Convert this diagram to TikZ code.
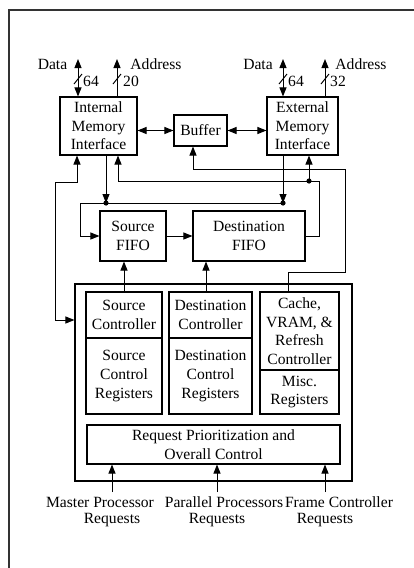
\documentclass[tikz,border=0pt]{standalone}
\usepackage{fontspec}
\setmainfont{Liberation Serif}
\usetikzlibrary{arrows.meta}
\newcommand\diagfs{\fontsize{15.6}{18.6}\selectfont}
\begin{document}
\begin{tikzpicture}[x=1pt,y=-1pt,
  box/.style={draw, line width=1.1pt, inner sep=0pt, align=center, font=\diagfs},
  lbl/.style={inner sep=0pt, align=center, font=\diagfs},
  wire/.style={line width=1pt},
  arr/.style={wire, -{Triangle[length=9pt,width=7pt]}},
  arrb/.style={wire, {Triangle[length=9pt,width=7pt]}-{Triangle[length=9pt,width=7pt]}},
  dot/.style={fill=black}]
\useasboundingbox (0,0) rectangle (414,568);
% outer frame
\draw[line width=1.2pt, black!80] (9,568) -- (9,10) -- (414,10);

% main boxes
\node[box, minimum width=77pt, minimum height=58pt] (imi) at (98.5,126) {Internal\\Memory\\Interface};
\node[box, minimum width=53pt, minimum height=31pt] (buf) at (200.5,130.5) {Buffer};
\node[box, minimum width=71pt, minimum height=58pt] (emi) at (302.5,126) {External\\Memory\\Interface};
\node[box, minimum width=66pt, minimum height=50pt] (sfifo) at (133,236) {Source\\FIFO};
\node[box, minimum width=112pt, minimum height=50pt] (dfifo) at (249,236) {Destination\\FIFO};
\node[box, minimum width=277pt, minimum height=197pt] (frame) at (213.5,382.5) {};
\node[box, minimum width=76pt, minimum height=46pt] (srcT) at (124,315) {Source\\Controller};
\node[box, minimum width=76pt, minimum height=76pt] (srcB) at (124,376) {Source\\Control\\Registers};
\node[box, minimum width=83pt, minimum height=46pt] (dstT) at (210.5,315) {Destination\\Controller};
\node[box, minimum width=83pt, minimum height=76pt] (dstB) at (210.5,376) {Destination\\Control\\Registers};
\node[box, minimum width=79pt, minimum height=78pt] (cacT) at (299.5,331) {Cache,\\VRAM, \&\\Refresh\\Controller};
\node[box, minimum width=79pt, minimum height=44pt] (cacB) at (299.5,392) {Misc.\\Registers};
\node[box, minimum width=253pt, minimum height=39pt] (req) at (213.5,444.5) {Request Prioritization and\\Overall Control};

% top buses
\coordinate (da1) at (78,59);
\coordinate (ad1) at (117,59);
\coordinate (da2) at (283,59);
\coordinate (ad2) at (325,59);
\draw[arrb] (da1) -- (da1 |- imi.north);
\draw[arr] (ad1 |- imi.north) -- (ad1);
\draw[arrb] (da2) -- (da2 |- emi.north);
\draw[arr] (ad2 |- emi.north) -- (ad2);
\node[lbl] (tdata1) at (52.5,64) {Data};
\node[lbl] (taddr1) at (156,64) {Address};
\node[lbl] (tdata2) at (258,64) {Data};
\node[lbl] (taddr2) at (361,64) {Address};
% bus width slashes
\draw[wire] (74,84) -- (82,74);
\draw[wire] (113,84) -- (121,74);
\draw[wire] (279,84) -- (287,74);
\draw[wire] (321,84) -- (329,74);
\node[lbl, anchor=west] (w64a) at (83,81) {64};
\node[lbl, anchor=west] (w20) at (123,81) {20};
\node[lbl, anchor=west] (w64b) at (288,81) {64};
\node[lbl, anchor=west] (w32) at (330,81) {32};

% buffer links
\draw[arrb] (imi.east |- buf) -- (buf.west);
\draw[arrb] (buf.east) -- (buf.east -| emi.west);

% data bus into source FIFO
\coordinate (d1) at (106,203);
\coordinate (d2) at (283,203);
\coordinate (bl) at (80,203);
\draw[arr] (d1 |- imi.south) -- (d1);
\draw[arr] (d2 |- emi.south) -- (d2);
\draw[wire] (bl) -- (d2);
\draw[arr] (bl) -- (bl |- sfifo.west) -- (sfifo.west);
\fill[dot] (d1) circle (2.6);
\fill[dot] (d2) circle (2.6);

% source -> destination FIFO
\draw[arr] (sfifo.east) -- (dfifo.west);

% destination FIFO output bus
\coordinate (r1) at (319,181);
\coordinate (d3) at (309,181);
\coordinate (l1) at (118,181);
\draw[arr] (dfifo.east) -| (r1) -- (l1) -- (l1 |- imi.south);
\draw[arr] (d3) -- (d3 |- emi.south);
\fill[dot] (d3) circle (2.6);

% cache controller -> buffer
\coordinate (b1) at (288,272);
\coordinate (b2) at (345,272);
\coordinate (b3) at (345,169);
\coordinate (b4) at (193,169);
\draw[arr] (b1 |- cacT.north) -- (b1) -- (b2) -- (b3) -- (b4) -- (b4 |- buf.south);

% controllers -> FIFOs
\draw[arr] (srcT.north) -- (srcT.north |- sfifo.south);
\coordinate (c2) at (206,292);
\draw[arr] (c2 |- dstT.north) -- (c2 |- dfifo.south);

% left control link
\coordinate (w1) at (77,182);
\coordinate (w2) at (55,182);
\coordinate (w3) at (55,320);
\draw[arrb] (w1 |- imi.south) -- (w1) -- (w2) -- (w3) -- (w3 -| frame.west);

% requests
\coordinate (q1) at (112,492);
\coordinate (q2) at (217,492);
\coordinate (q3) at (325,492);
\draw[arr] (q1) -- (q1 |- req.south);
\draw[arr] (q2) -- (q2 |- req.south);
\draw[arr] (q3) -- (q3 |- req.south);
\node[lbl] (rq1a) at (100,502) {Master Processor};
\node[lbl] (rq1b) at (112,520) {Requests};
\node[lbl] (rq2a) at (224,502) {Parallel Processors};
\node[lbl] (rq2b) at (217,520) {Requests};
\node[lbl] (rq3a) at (339,502) {Frame Controller};
\node[lbl] (rq3b) at (325,520) {Requests};
\end{tikzpicture}
\end{document}
